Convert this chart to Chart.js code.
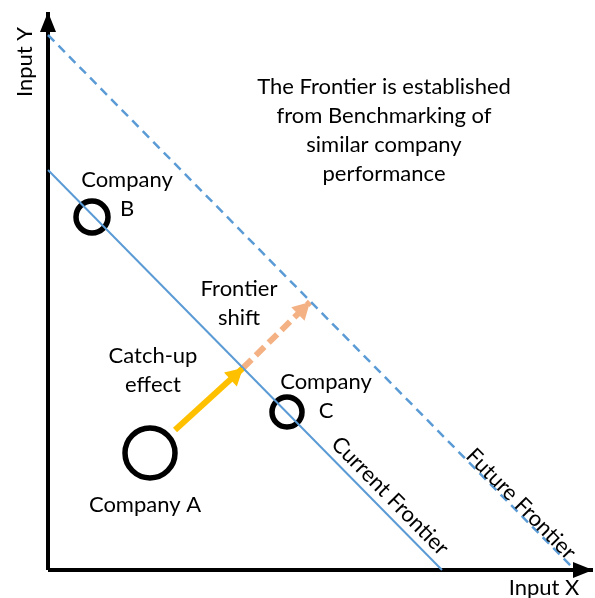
<!DOCTYPE html>
<html>
<head>
<meta charset="UTF-8">
<title>Frontier shift</title>
<style>
  body { margin: 0; background: white; }
  canvas { display: block; }
</style>
</head>
<body>
<canvas id="chart" width="595" height="598"></canvas>
<script src="https://cdn.jsdelivr.net/npm/chart.js"></script>
<script>
// one unit = 10 px, origin at the corner of the axes
const axisY = [{ x: 0, y: 0 }, { x: 0, y: 55.8 }];
const axisX = [{ x: 0, y: 0 }, { x: 54.5, y: 0 }];
const currentFrontier = [{ x: 0, y: 40 }, { x: 39.4, y: 0 }];
const futureFrontier = [{ x: 0, y: 53.5 }, { x: 52.7, y: 0 }];
const catchUp = [{ x: 12.7, y: 14.0 }, { x: 19.5, y: 20.2 }];
const frontierShift = [{ x: 19.5, y: 20.2 }, { x: 26.2, y: 26.8 }];
const companyNames = ['Company A', 'Company B', 'Company C'];
const companies = [{ x: 10.2, y: 11.7 }, { x: 4.4, y: 35.3 }, { x: 23.9, y: 15.8 }];
const companySizes = [25, 16, 15];

const labels = [
  { text: ['Input Y'], x: -2.3, y: 50.8, rot: -90 },
  { text: ['Input X'], x: 49.6, y: -1.8 },
  { text: ['The Frontier is established', 'from Benchmarking of', 'similar company', 'performance'], x: 33.6, y: 44.0 },
  { text: ['Company', 'B'], x: 7.9, y: 37.6 },
  { text: ['Company', 'C'], x: 27.8, y: 17.4 },
  { text: ['Company A'], x: 9.7, y: 6.5 },
  { text: ['Frontier', 'shift'], x: 19.1, y: 26.7 },
  { text: ['Catch-up', 'effect'], x: 10.5, y: 20.0 },
  { text: ['Current Frontier'], x: 34.2, y: 7.4, rot: 45.4 },
  { text: ['Future Frontier'], x: 47.3, y: 6.6, rot: 45.4 }
];

const BLUE = '#5B9BD5';

const arrowHeads = {
  id: 'arrowHeads',
  afterDatasetsDraw(chart) {
    const ctx = chart.ctx;
    chart.data.datasets.forEach((ds, i) => {
      if (!ds.arrow) return;
      const pts = chart.getDatasetMeta(i).data;
      const a = pts[pts.length - 2], b = pts[pts.length - 1];
      const ang = Math.atan2(b.y - a.y, b.x - a.x);
      const len = ds.arrow.len, w = ds.arrow.w;
      ctx.save();
      ctx.translate(b.x, b.y);
      ctx.rotate(ang);
      ctx.fillStyle = ds.borderColor;
      ctx.beginPath();
      ctx.moveTo(0, 0);
      ctx.lineTo(-len, -w / 2);
      ctx.lineTo(-len, w / 2);
      ctx.closePath();
      ctx.fill();
      ctx.restore();
    });
  }
};

const textLabels = {
  id: 'textLabels',
  afterDraw(chart) {
    const ctx = chart.ctx;
    const sx = chart.scales.x, sy = chart.scales.y;
    ctx.save();
    ctx.font = '22px Lato, "Open Sans", sans-serif';
    ctx.fillStyle = '#000';
    ctx.textAlign = 'center';
    ctx.textBaseline = 'middle';
    labels.forEach(l => {
      ctx.save();
      ctx.translate(sx.getPixelForValue(l.x), sy.getPixelForValue(l.y));
      if (l.rot) ctx.rotate(l.rot * Math.PI / 180);
      const lh = 29;
      l.text.forEach((t, k) => {
        ctx.fillText(t, 0, (k - (l.text.length - 1) / 2) * lh);
      });
      ctx.restore();
    });
    ctx.restore();
  }
};

const line = (data, color, width, dash, arrow) => ({
  type: 'line', data, borderColor: color, borderWidth: width, borderDash: dash || [],
  pointRadius: 0, fill: false, clip: false, arrow
});

new Chart(document.getElementById('chart'), {
  type: 'scatter',
  data: {
    datasets: [
      line(futureFrontier, BLUE, 2.5, [9, 6]),
      line(currentFrontier, BLUE, 2),
      line(catchUp, '#FFC000', 6, [], { len: 17, w: 19 }),
      line(frontierShift, '#F4B183', 6, [12, 6], { len: 17, w: 19 }),
      line(axisY, '#000', 4, [], { len: 20, w: 16 }),
      line(axisX, '#000', 4, [], { len: 20, w: 16 }),
      {
        label: 'Companies', data: companies, pointRadius: companySizes, pointHoverRadius: companySizes,
        borderColor: '#000', backgroundColor: 'rgba(0,0,0,0)', borderWidth: 5.5, clip: false
      }
    ]
  },
  options: {
    responsive: false,
    animation: false,
    layout: { autoPadding: false, padding: { left: 48, right: 2, top: 12, bottom: 28 } },
    scales: {
      x: { type: 'linear', min: 0, max: 54.5, display: false },
      y: { type: 'linear', min: 0, max: 55.8, display: false }
    },
    plugins: { legend: { display: false }, tooltip: { enabled: false } }
  },
  plugins: [arrowHeads, textLabels]
});
</script>
</body>
</html>
